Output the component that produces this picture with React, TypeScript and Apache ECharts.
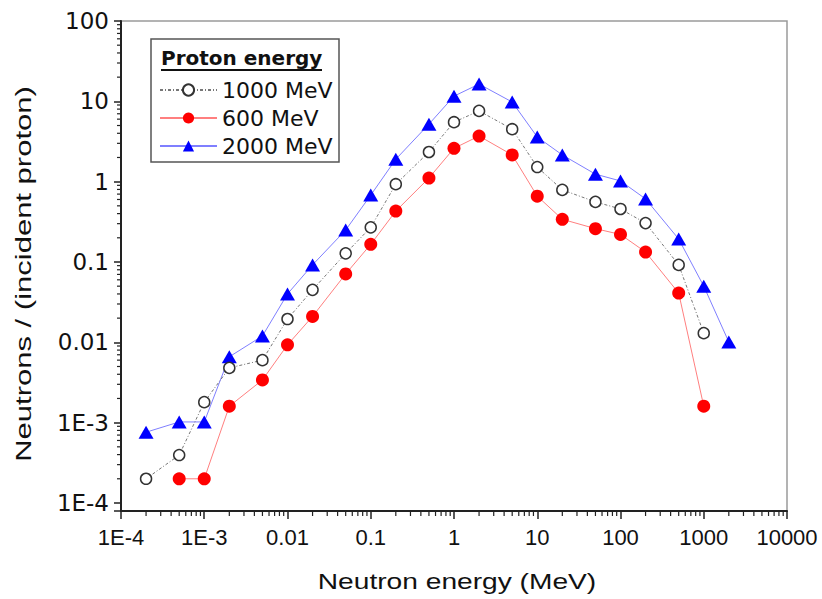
import React, { useEffect, useRef } from 'react';
import * as echarts from 'echarts';

// Neutron energy bins (MeV)
const energies = [2e-4, 5e-4, 1e-3, 2e-3, 5e-3, 0.01, 0.02, 0.05, 0.1, 0.2, 0.5, 1, 2, 5, 10, 20, 50, 100, 200, 500, 1000, 2000];
// Neutrons per incident proton
const yield1000 = [2.0e-4, 3.95e-4, 1.8e-3, 4.8e-3, 6.0e-3, 0.0195, 0.045, 0.128, 0.27, 0.93, 2.34, 5.5, 7.6, 4.5, 1.52, 0.79, 0.56, 0.457, 0.305, 0.092, 0.013, null];
const yield600 = [null, 2.0e-4, 2.0e-4, 1.6e-3, 3.4e-3, 9.3e-3, 0.021, 0.071, 0.166, 0.43, 1.11, 2.6, 3.7, 2.15, 0.66, 0.34, 0.26, 0.22, 0.133, 0.041, 1.6e-3, null];
const yield2000 = [7.6e-4, 1.02e-3, 1.02e-3, 6.6e-3, 0.012, 0.04, 0.092, 0.25, 0.68, 1.9, 5.2, 11.6, 16.4, 9.8, 3.6, 2.15, 1.24, 1.02, 0.61, 0.193, 0.05, 0.0101];

const seriesNames = ['1000 MeV', '600 MeV', '2000 MeV'];
const xTickLabels = ['1E-4', '1E-3', '0.01', '0.1', '1', '10', '100', '1000', '10000'];
const yTickLabels = ['1E-4', '1E-3', '0.01', '0.1', '1', '10', '100'];
const minorMultipliers = [2, 3, 4, 5, 6, 7, 8, 9];
const xDecades = [-4, -3, -2, -1, 0, 1, 2, 3];
const yDecades = [-4, -3, -2, -1, 0, 1];

const X_MIN = 1e-4;
const X_MAX = 1e4;
const Y_MIN = Math.pow(10, -4.1);
const Y_MAX = 100;

const FONT = '"Liberation Sans", Arial, sans-serif';
const WIDE_FONT = '"DejaVu Sans", Verdana, sans-serif';

function pairs(ys: (number | null)[]) {
  const out: number[][] = [];
  energies.forEach((e, i) => {
    const v = ys[i];
    if (v != null) out.push([e, v]);
  });
  return out;
}

function decadeLabel(v: number, labels: string[], minExp: number) {
  const l = Math.log10(v);
  const r = Math.round(l);
  if (Math.abs(l - r) > 1e-6) return '';
  return labels[r - minExp] ?? '';
}

export default function App() {
  const ref = useRef<HTMLDivElement>(null);

  useEffect(() => {
    if (!ref.current) return;
    const chart = echarts.init(ref.current, null, { renderer: 'svg' });

    const xMinor: number[][] = [];
    xDecades.forEach((d) => minorMultipliers.forEach((m) => xMinor.push([m * Math.pow(10, d), Y_MIN])));
    const yMinor: number[][] = [];
    yDecades.forEach((d) => minorMultipliers.forEach((m) => yMinor.push([X_MIN, m * Math.pow(10, d)])));

    const option: any = {
      animation: false,
      backgroundColor: '#fff',
      grid: {
        left: 121,
        right: 35,
        top: 21,
        bottom: 88,
        show: true,
        borderColor: '#9a9a9a',
        borderWidth: 1.5,
        backgroundColor: 'transparent',
      },
      legend: {
        orient: 'vertical',
        left: 159,
        top: 79,
        itemWidth: 57,
        itemHeight: 14,
        itemGap: 6,
        padding: 0,
        selectedMode: false,
        data: seriesNames,
        textStyle: { fontSize: 22, color: '#111', fontFamily: WIDE_FONT },
        z: 5,
      },
      xAxis: {
        type: 'log',
        logBase: 10,
        min: X_MIN,
        max: X_MAX,
        axisLine: { lineStyle: { color: '#222', width: 2 } },
        axisTick: { length: 8, lineStyle: { color: '#222', width: 1.5 } },
        axisLabel: {
          margin: 15,
          fontSize: 22,
          color: '#111',
          fontFamily: FONT,
          formatter: (v: number) => decadeLabel(v, xTickLabels, -4),
        },
        splitLine: { show: false },
      },
      yAxis: {
        type: 'log',
        logBase: 10,
        min: Y_MIN,
        max: Y_MAX,
        axisLine: { lineStyle: { color: '#222', width: 2 } },
        axisTick: { length: 7, lineStyle: { color: '#222', width: 1.5 } },
        axisLabel: {
          margin: 12,
          fontSize: 23,
          color: '#111',
          fontFamily: WIDE_FONT,
          formatter: (v: number) => decadeLabel(v, yTickLabels, -4),
        },
        splitLine: { show: false },
      },
      graphic: [
        {
          type: 'rect',
          z: 3,
          shape: { x: 151, y: 39, width: 188, height: 123 },
          style: { fill: '#fff', stroke: '#555', lineWidth: 1.5 },
        },
        {
          type: 'text',
          z: 4,
          x: 161,
          y: 58,
          style: {
            text: 'Proton energy',
            fontSize: 20,
            fontWeight: 'bold',
            fontFamily: WIDE_FONT,
            fill: '#111',
            verticalAlign: 'middle',
          },
        },
        {
          type: 'line',
          z: 4,
          shape: { x1: 161, y1: 70, x2: 322, y2: 70 },
          style: { stroke: '#111', lineWidth: 2 },
        },
        {
          type: 'text',
          x: 457,
          y: 581,
          scaleX: 1.28,
          style: {
            text: 'Neutron energy (MeV)',
            fontSize: 22,
            fontFamily: FONT,
            fill: '#111',
            align: 'center',
            verticalAlign: 'middle',
          },
        },
        {
          type: 'text',
          x: 24,
          y: 274,
          rotation: Math.PI / 2,
          scaleX: 1.41,
          style: {
            text: 'Neutrons / (incident proton)',
            fontSize: 22,
            fontFamily: FONT,
            fill: '#111',
            align: 'center',
            verticalAlign: 'middle',
          },
        },
      ],
      series: [
        {
          name: seriesNames[0],
          type: 'line',
          data: pairs(yield1000),
          symbol: 'circle',
          symbolSize: 11,
          itemStyle: { color: '#fff', borderColor: '#333', borderWidth: 1.5 },
          lineStyle: { color: '#777', width: 1, type: [3, 2, 1, 2] },
          z: 3,
        },
        {
          name: seriesNames[1],
          type: 'line',
          data: pairs(yield600),
          symbol: 'circle',
          symbolSize: 13,
          itemStyle: { color: '#ff0000' },
          lineStyle: { color: '#ff7f7f', width: 1 },
          z: 2,
        },
        {
          name: seriesNames[2],
          type: 'line',
          data: pairs(yield2000),
          symbol: 'triangle',
          symbolSize: [15, 13],
          itemStyle: { color: '#0000ff' },
          lineStyle: { color: '#7f7fff', width: 1 },
          z: 2,
        },
        {
          type: 'custom',
          silent: true,
          clip: false,
          data: xMinor,
          renderItem: (_p: any, api: any) => {
            const pt = api.coord([api.value(0), api.value(1)]);
            return {
              type: 'line',
              shape: { x1: pt[0], y1: pt[1], x2: pt[0], y2: pt[1] + 5 },
              style: { stroke: '#222', lineWidth: 1.2 },
            };
          },
        },
        {
          type: 'custom',
          silent: true,
          clip: false,
          data: yMinor,
          renderItem: (_p: any, api: any) => {
            const pt = api.coord([api.value(0), api.value(1)]);
            return {
              type: 'line',
              shape: { x1: pt[0] - 4, y1: pt[1], x2: pt[0], y2: pt[1] },
              style: { stroke: '#222', lineWidth: 1.2 },
            };
          },
        },
      ],
    };

    chart.setOption(option);
    return () => chart.dispose();
  }, []);

  return (
    <div
      ref={ref}
      style={{ position: 'fixed', left: 0, top: 0, width: 822, height: 599, background: '#fff' }}
    />
  );
}
